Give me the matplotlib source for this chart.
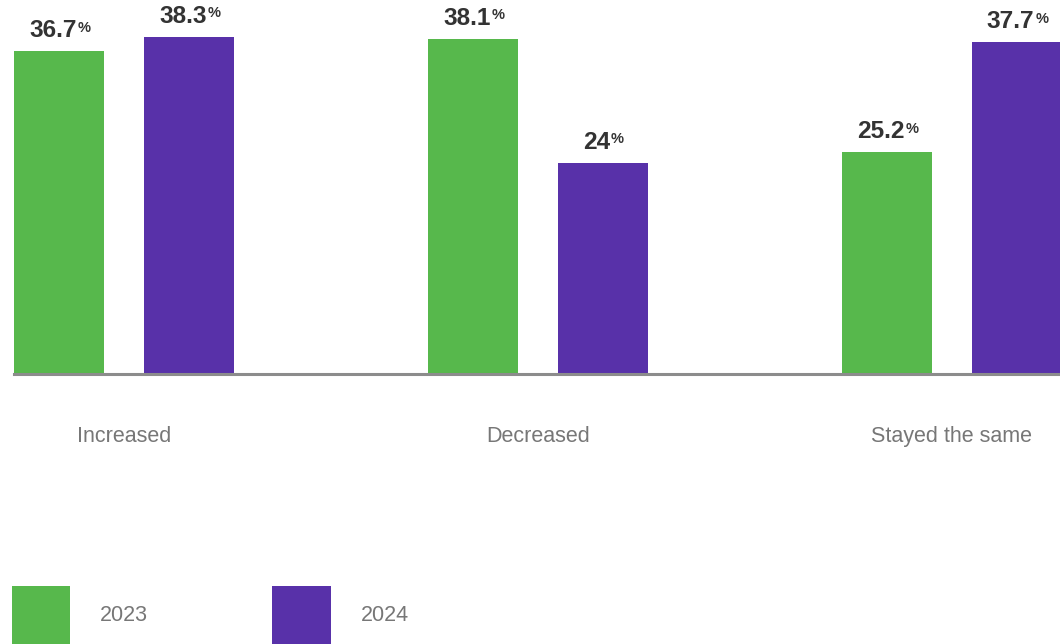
import matplotlib
matplotlib.use('Agg')
import matplotlib.pyplot as plt
import numpy as np

categories = ['Increased', 'Decreased', 'Stayed the same']
series_names = ['2023', '2024']
values_2023 = [36.7, 38.1, 25.2]
values_2024 = [38.3, 24.0, 37.7]
colors = ['#57B84C', '#5831A9']

plt.rcParams['font.family'] = ['Liberation Sans', 'DejaVu Sans']

W, H = 1060, 644
fig = plt.figure(figsize=(W / 100, H / 100), dpi=100)
ax = fig.add_axes([0, 270 / H, 1, 374 / H])

x = np.arange(len(categories))
width = 90 / 414
offset = 130 / 414
bars1 = ax.bar(x, values_2023, width, color=colors[0], label=series_names[0], zorder=2)
bars2 = ax.bar(x + offset, values_2024, width, color=colors[1], label=series_names[1], zorder=2)

ax.set_xlim(-59 / 414, (W - 59) / 414)
ax.set_ylim(0, 374 / 8.8)
for s in ax.spines.values():
    s.set_visible(False)
ax.set_xticks([])
ax.set_yticks([])
ax.patch.set_alpha(0)

ax.axhline(0, xmin=14 / W, xmax=1, color='#8c8c8c', lw=2.2, zorder=3, clip_on=False)

# value labels
for xs, vals in ((x, values_2023), (x + offset, values_2024)):
    for xi, v in zip(xs, vals):
        t = ax.annotate(f'{v:g}', xy=(xi, v), xytext=(-4.5, 10), textcoords='offset points',
                        ha='center', va='baseline', fontsize=17.6, fontweight='bold',
                        color='#333333')
        ax.annotate('%', xy=(1, 1), xycoords=t, xytext=(0.5, -1), textcoords='offset points',
                    ha='left', va='top', fontsize=10.5, fontweight='bold', color='#333333')

# category labels
for cx, cat in zip(x + offset / 2, categories):
    ax.annotate(cat, xy=(cx, 0), xycoords=ax.get_xaxis_transform(), xytext=(0, -49),
                textcoords='offset points', ha='center', va='baseline',
                fontsize=15.5, color='#777777')

fig.legend(handles=[bars1, bars2], loc='lower left', bbox_to_anchor=(12 / W, 0),
           frameon=False, borderpad=0, borderaxespad=0, ncol=2, fontsize=15.5,
           labelcolor='#777777', handlelength=2.7, handleheight=3.777,
           handletextpad=1.4, columnspacing=5.77)

fig.savefig('out.png', dpi=100)
